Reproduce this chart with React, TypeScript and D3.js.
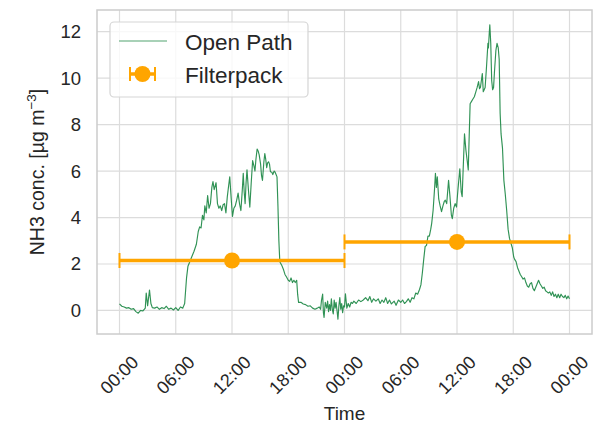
import React from 'react';
import * as d3 from 'd3';

// ---------- data ----------
const openPathHours = [
  0.0, 0.25, 0.5, 0.75, 1.0, 1.25, 1.5, 1.75, 2.0, 2.25, 2.5, 2.75, 2.85, 3.0, 3.2, 3.35, 3.5, 3.75,
  4.0, 4.25, 4.5, 4.75, 5.0, 5.25, 5.5, 5.75, 6.0, 6.25, 6.5, 6.75, 6.95, 7.15, 7.3, 7.5, 7.7, 7.95,
  8.2, 8.4, 8.55, 8.7, 8.85, 9.0, 9.1, 9.25, 9.4, 9.55, 9.7, 9.85, 9.97, 10.1, 10.3, 10.45, 10.6, 10.75,
  10.9, 11.05, 11.2, 11.35, 11.5, 11.65, 11.76, 11.9, 12.05, 12.2, 12.35, 12.5, 12.65, 12.8, 12.95, 13.1,
  13.2, 13.3, 13.4, 13.5, 13.6, 13.75, 13.9, 14.05, 14.2, 14.35, 14.45, 14.55, 14.68, 14.8, 14.9, 15.05,
  15.15, 15.25, 15.4, 15.5, 15.6, 15.7, 15.8, 15.9, 16.0, 16.1, 16.25, 16.35, 16.5, 16.6, 16.7, 16.8,
  16.9, 17.0, 17.1, 17.3, 17.5, 17.65, 17.8, 18.0, 18.15, 18.3, 18.45, 18.6, 18.75, 18.9, 19.0, 19.1,
  19.35, 19.6, 19.85, 20.1, 20.35, 20.6, 20.85, 21.1, 21.3, 21.45, 21.55, 21.67, 21.75, 21.82, 21.95, 22.1,
  22.2, 22.3, 22.4, 22.5, 22.6, 22.7, 22.8, 22.9, 23.0, 23.1, 23.2, 23.3, 23.4, 23.5, 23.6, 23.7,
  23.8, 23.9, 24.0, 24.1, 24.25, 24.4, 24.55, 24.7, 24.85, 25.0, 25.25, 25.5, 25.75, 26.0, 26.25, 26.5,
  26.7, 26.9, 27.1, 27.35, 27.6, 27.8, 28.0, 28.2, 28.4, 28.6, 28.8, 29.0, 29.3, 29.5, 29.75, 30.0,
  30.2, 30.4, 30.6, 30.8, 31.0, 31.2, 31.4, 31.6, 31.8, 32.0, 32.15, 32.3, 32.45, 32.6, 32.75, 32.9,
  33.05, 33.2, 33.3, 33.45, 33.6, 33.7, 33.8, 33.9, 34.05, 34.2, 34.35, 34.5, 34.65, 34.75, 34.9, 35.0,
  35.1, 35.25, 35.4, 35.5, 35.65, 35.8, 35.95, 36.1, 36.3, 36.45, 36.55, 36.65, 36.8, 36.95, 37.1, 37.2,
  37.3, 37.4, 37.55, 37.7, 37.85, 38.0, 38.15, 38.3, 38.4, 38.5, 38.6, 38.7, 38.8, 38.9, 39.0, 39.15,
  39.3, 39.35, 39.45, 39.5, 39.6, 39.7, 39.8, 39.9, 40.0, 40.15, 40.27, 40.4, 40.5, 40.6, 40.7, 40.85,
  41.0, 41.15, 41.3, 41.45, 41.6, 41.75, 41.9, 42.05, 42.15, 42.3, 42.45, 42.6, 42.75, 42.9, 43.05, 43.2,
  43.35, 43.5, 43.65, 43.8, 43.95, 44.1, 44.25, 44.4, 44.55, 44.7, 44.85, 45.0, 45.15, 45.3, 45.45, 45.6,
  45.75, 45.9, 46.05, 46.2, 46.35, 46.5, 46.65, 46.8, 46.95, 47.1, 47.25, 47.4, 47.55, 47.7, 47.85, 48.0,
];
const openPathValues = [
  0.28, 0.18, 0.15, 0.1, 0.12, 0.05, 0.08, -0.05, -0.12, 0.0, -0.02, 0.1, 0.75, 0.2, 0.88, 0.3, 0.12, 0.1,
  0.15, 0.05, 0.12, 0.08, 0.18, 0.05, 0.1, 0.02, 0.12, 0.0, 0.15, 0.1, 0.3, 1.4, 1.9, 2.1, 2.3, 2.55,
  2.85, 3.4, 3.6, 3.55, 4.1, 3.9, 4.5, 4.2, 4.95, 4.4, 4.6, 5.3, 5.55, 5.2, 5.5, 4.6, 4.4, 4.5,
  4.3, 4.55, 4.6, 4.2, 4.9, 5.4, 5.75, 4.9, 4.05, 4.4, 4.5, 4.75, 5.05, 4.6, 4.3, 5.2,
  5.9, 5.1, 4.6, 5.5, 6.05, 5.2, 4.45, 5.5, 6.45, 6.2, 6.0, 6.5, 6.95, 6.85, 6.7, 6.3,
  5.8, 5.6, 6.4, 6.75, 6.5, 6.15, 6.35, 6.4, 6.3, 5.97, 5.95, 5.85, 6.0, 5.95, 5.85, 5.75,
  4.5, 3.0, 2.1, 1.95, 1.75, 1.55, 1.45, 1.3, 1.25, 1.4, 1.2, 1.3, 1.2, 1.3, 0.7, 0.35,
  0.35, 0.28, 0.25, 0.18, 0.2, 0.1, 0.05, 0.1, 0.15, 0.05, 0.45, 0.7, -0.1, -0.3, 0.35, 0.1,
  0.4, -0.05, 0.25, 0.0, 0.5, 0.05, -0.15, 0.45, 0.1, 0.35, 0.0, -0.38, 0.2, 0.55, 0.05, 0.3,
  -0.1, 0.2, 0.15, 0.72, 0.1, 0.3, 0.15, 0.35, 0.3, 0.4, 0.3, 0.45, 0.38, 0.45, 0.55, 0.42,
  0.6, 0.35, 0.5, 0.4, 0.5, 0.3, 0.45, 0.35, 0.55, 0.3, 0.45, 0.28, 0.4, 0.22, 0.45, 0.35,
  0.45, 0.3, 0.38, 0.5, 0.35, 0.55, 0.5, 0.75, 0.7, 0.9, 1.1, 1.6, 2.2, 2.75, 2.8, 3.2,
  3.2, 3.5, 3.75, 4.3, 5.2, 5.9, 5.3, 5.75, 4.8, 4.5, 4.25, 4.5, 4.7, 4.75, 4.6, 5.1,
  5.6, 4.9, 4.1, 3.95, 4.4, 4.6, 4.45, 5.2, 6.1, 5.1, 4.9, 6.0, 7.6, 6.9, 6.4, 6.05,
  7.5, 8.9, 9.0, 9.1, 9.2, 9.4, 9.6, 9.85, 9.55, 9.6, 9.9, 10.2, 9.42, 9.5, 9.6, 10.5,
  11.5, 11.3, 12.0, 12.3, 11.5, 9.9, 9.5, 9.6, 10.3, 11.2, 11.5, 11.3, 10.8, 8.5, 7.6, 7.0,
  5.6, 5.0, 4.3, 3.5, 3.1, 2.9, 2.7, 2.3, 2.2, 2.1, 1.85, 1.7, 1.55, 1.45, 1.35, 1.4,
  1.2, 1.05, 1.0, 1.15, 1.2, 0.95, 0.85, 1.0, 1.15, 1.3, 1.15, 1.05, 0.95, 1.0, 0.85, 0.8,
  0.75, 0.8, 0.65, 0.8, 0.6, 0.7, 0.55, 0.7, 0.55, 0.7, 0.6, 0.55, 0.65, 0.5, 0.62, 0.5,
];

const filterpackCenterHours = [12, 36];
const filterpackValues = [2.15, 2.95];
const filterpackHalfSpanHours = [12, 12];

const xTickHours = [0, 6, 12, 18, 24, 30, 36, 42, 48];
const yTickValues = [0, 2, 4, 6, 8, 10, 12];
const legendLabels = ['Open Path', 'Filterpack'];
const xAxisLabel = 'Time';

// ---------- layout ----------
const W = 596;
const H = 426;
const plot = { left: 97, right: 592, top: 10, bottom: 334 };
const FONT = '"Liberation Sans", Arial, sans-serif';
const TEXT = '#262626';
const GRID = '#dcdcdc';
const SPINE = '#cccccc';
const GREEN = '#1a8642';
const ORANGE = '#FFA500';

const baseDate = new Date(2021, 5, 1, 0, 0, 0);
const toDate = (h: number) => new Date(baseDate.getTime() + h * 3600 * 1000);

export default function App() {
  const tMin = d3.min(openPathHours)!;
  const tMax = d3.max(openPathHours)!;
  const tPad = (tMax - tMin) * 0.05;
  const x = d3
    .scaleTime()
    .domain([toDate(tMin - tPad), toDate(tMax + tPad)])
    .range([plot.left, plot.right]);

  const vMin = d3.min(openPathValues)!;
  const vMax = d3.max(openPathValues)!;
  const vPad = (vMax - vMin) * 0.05;
  const y = d3.scaleLinear().domain([vMin - vPad, vMax + vPad]).range([plot.bottom, plot.top]);

  const fmt = d3.timeFormat('%H:%M');
  const pts = openPathHours.map((h, i) => [h, openPathValues[i]] as [number, number]);
  const line = d3
    .line<[number, number]>()
    .x((d) => x(toDate(d[0])))
    .y((d) => y(d[1]));

  const cx = (plot.left + plot.right) / 2;
  const cy = (plot.top + plot.bottom) / 2;

  return (
    <svg
      width={W}
      height={H}
      style={{ position: 'absolute', left: 0, top: 0, background: '#fff' }}
      fontFamily={FONT}
    >
      <rect x={0} y={0} width={W} height={H} fill="#fff" />
      {/* grid */}
      {xTickHours.map((h) => (
        <line
          key={'gx' + h}
          x1={x(toDate(h))}
          x2={x(toDate(h))}
          y1={plot.top}
          y2={plot.bottom}
          stroke={GRID}
          strokeWidth={1.2}
        />
      ))}
      {yTickValues.map((v) => (
        <line
          key={'gy' + v}
          x1={plot.left}
          x2={plot.right}
          y1={y(v)}
          y2={y(v)}
          stroke={GRID}
          strokeWidth={1.2}
        />
      ))}
      {/* open path line */}
      <path d={line(pts) || ''} fill="none" stroke={GREEN} strokeWidth={1.15} strokeOpacity={0.9} strokeLinejoin="round" />
      {/* filterpack error bars */}
      {filterpackCenterHours.map((h, i) => {
        const x0 = x(toDate(h - filterpackHalfSpanHours[i]));
        const x1 = x(toDate(h + filterpackHalfSpanHours[i]));
        const yy = y(filterpackValues[i]);
        return (
          <g key={'fp' + i}>
            <line x1={x0} x2={x1} y1={yy} y2={yy} stroke={ORANGE} strokeWidth={3.5} />
            <line x1={x0} x2={x0} y1={yy - 7.5} y2={yy + 7.5} stroke={ORANGE} strokeWidth={2} />
            <line x1={x1} x2={x1} y1={yy - 7.5} y2={yy + 7.5} stroke={ORANGE} strokeWidth={2} />
            <circle cx={x(toDate(h))} cy={yy} r={8} fill={ORANGE} />
          </g>
        );
      })}
      {/* spines */}
      <rect
        x={plot.left}
        y={plot.top}
        width={plot.right - plot.left}
        height={plot.bottom - plot.top}
        fill="none"
        stroke={SPINE}
        strokeWidth={1.5}
      />
      {/* y tick labels */}
      {yTickValues.map((v) => (
        <text
          key={'yt' + v}
          x={81}
          y={y(v)}
          textAnchor="end"
          dominantBaseline="central"
          fontSize={18.5}
          fill={TEXT}
        >
          {v}
        </text>
      ))}
      {/* x tick labels */}
      {xTickHours.map((h) => (
        <text
          key={'xt' + h}
          transform={`translate(${x(toDate(h))},375) rotate(-45)`}
          textAnchor="middle"
          dominantBaseline="central"
          fontSize={18}
          fill={TEXT}
        >
          {fmt(toDate(h))}
        </text>
      ))}
      {/* axis labels */}
      <text x={cx} y={420} textAnchor="middle" fontSize={19} fill={TEXT}>
        {xAxisLabel}
      </text>
      <text transform={`translate(44,${cy}) rotate(-90)`} textAnchor="middle" fontSize={19.5} fill={TEXT}>
        NH3 conc. [µg m
        <tspan fontSize={13.5} dy={-8}>
          −3
        </tspan>
        <tspan dy={8}>]</tspan>
      </text>
      {/* legend */}
      <g>
        <rect x={110} y={22} width={198} height={75} rx={4} fill="#fff" fillOpacity={0.8} stroke="#d5d5d5" strokeWidth={1.2} />
        <line x1={119} x2={167} y1={41} y2={41} stroke={GREEN} strokeWidth={1.15} strokeOpacity={0.75} />
        <text x={185} y={42} dominantBaseline="central" fontSize={22.5} fill={TEXT}>
          {legendLabels[0]}
        </text>
        <line x1={130} x2={155} y1={74} y2={74} stroke={ORANGE} strokeWidth={3.5} />
        <line x1={130} x2={130} y1={67} y2={81} stroke={ORANGE} strokeWidth={2} />
        <line x1={155} x2={155} y1={67} y2={81} stroke={ORANGE} strokeWidth={2} />
        <circle cx={142.5} cy={74} r={8} fill={ORANGE} />
        <text x={185} y={75} dominantBaseline="central" fontSize={22.5} fill={TEXT}>
          {legendLabels[1]}
        </text>
      </g>
    </svg>
  );
}
